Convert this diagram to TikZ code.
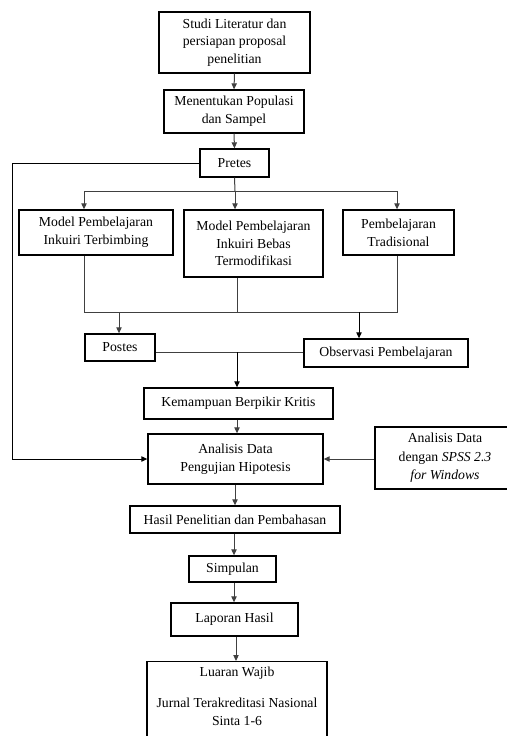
\documentclass[tikz,border=0pt]{standalone}
\usepackage{fontspec}
\setmainfont{Liberation Serif}
\usetikzlibrary{arrows.meta}
\begin{document}
\begin{tikzpicture}[x=0.75pt,y=-0.75pt,
  box/.style={draw=black, line width=1pt, inner sep=0pt, align=center,
    font=\fontsize{10.3pt}{13.3pt}\selectfont, fill=white},
  conn/.style={draw=black!75, line width=0.75pt},
  arr/.style={conn, -{Triangle[length=4.5pt,width=4pt]}}]
\useasboundingbox (0,0) rectangle (507,736);
\begin{scope}
\clip (0,0) rectangle (507,736);
\node[box, minimum width=151*0.75pt, minimum height=61*0.75pt] (b1) at (234.5,42.5) {Studi Literatur dan\\persiapan proposal\\penelitian};
\node[box, minimum width=140*0.75pt, minimum height=43*0.75pt] (b2) at (234,111.5) {Menentukan Populasi\\dan Sampel};
\node[box, minimum width=69*0.75pt, minimum height=28*0.75pt] (pre) at (234.5,163) {Pretes};
\node[box, minimum width=154*0.75pt, minimum height=45*0.75pt] (m1) at (96,232.5) {Model Pembelajaran\\Inkuiri Terbimbing};
\node[box, minimum width=139*0.75pt, minimum height=67*0.75pt] (m2) at (253.5,243.5) {Model Pembelajaran\\Inkuiri Bebas\\Termodifikasi};
\node[box, minimum width=111*0.75pt, minimum height=45*0.75pt] (m3) at (398.5,232.5) {Pembelajaran\\Tradisional};
\node[box, minimum width=70*0.75pt, minimum height=27*0.75pt] (post) at (120,347.5) {Postes};
\node[box, minimum width=164*0.75pt, minimum height=28*0.75pt] (obs) at (386,353) {Observasi Pembelajaran};
\node[box, minimum width=189*0.75pt, minimum height=31*0.75pt] (kem) at (238.5,403.5) {Kemampuan Berpikir Kritis};
\node[box, minimum width=175*0.75pt, minimum height=50*0.75pt] (ana) at (235.5,459) {Analisis Data\\Pengujian Hipotesis};
\node[box, minimum width=140*0.75pt, minimum height=62*0.75pt,
  font=\fontsize{10.3pt}{13.8pt}\selectfont] (spss) at (445,458) {Analisis Data\\dengan \textit{SPSS 2.3}\\\textit{for Windows}};
\node[box, minimum width=210*0.75pt, minimum height=27*0.75pt] (has) at (235,519.5) {Hasil Penelitian dan Pembahasan};
\node[box, minimum width=87*0.75pt, minimum height=26*0.75pt] (sim) at (232.5,569) {Simpulan};
\node[box, minimum width=127*0.75pt, minimum height=33*0.75pt] (lap) at (234.5,619.5) {Laporan Hasil};
\node[box, minimum width=180*0.75pt, minimum height=100*0.75pt, anchor=north] (lua) at (237,661) {};
\node[align=center, inner sep=0pt, anchor=north, font=\fontsize{10.3pt}{13.8pt}\selectfont] (luatext) at (237,667)
  {Luaran Wajib\\[9pt]Jurnal Terakreditasi Nasional\\Sinta 1-6};

% connectors
\draw[arr] (b1.south) -- (b2.north);
\draw[arr] (b2.south) -- (pre.north);
\coordinate (d0) at (235,191);
\coordinate (dl) at (84,191);
\coordinate (dr) at (397,191);
\draw[conn] (pre.south) -- (d0);
\draw[conn] (dl) -- (dr);
\draw[arr] (dl) -- (dl |- m1.north);
\draw[arr] (d0) -- (d0 |- m2.north);
\draw[arr] (dr) -- (dr |- m3.north);
\coordinate (jl) at (84,312);
\coordinate (jm) at (237,312);
\coordinate (jr) at (397,312);
\draw[conn] (dl |- m1.south) -- (jl) -- (jr) -- (dr |- m3.south);
\draw[conn] (jm |- m2.south) -- (jm);
\coordinate (ap) at (119,312);
\coordinate (ao) at (359,312);
\draw[arr] (ap) -- (ap |- post.north);
\draw[arr,draw=black] (ao) -- (ao |- obs.north);
\coordinate (pj) at (237,352);
\draw[conn] (post.east |- pj) -- (obs.west |- pj);
\draw[arr,draw=black] (pj) -- (pj |- kem.north);
\coordinate (ka) at (237,419);
\draw[arr] (kem.south -| ka) -- (ana.north -| ka);
\coordinate (lc1) at (12,163);
\coordinate (lc2) at (12,459);
\draw[arr,draw=black] (pre.west) -- (lc1) -- (lc2) -- (ana.west);
\draw[arr] (spss.west |- ana.east) -- (ana.east);
\draw[arr] (ana.south -| has.north) -- (has.north);
\coordinate (ts) at (234,533);
\draw[arr] (has.south -| ts) -- (sim.north -| ts);
\draw[arr] (sim.south -| ts) -- (lap.north -| ts);
\coordinate (tl) at (236,636);
\draw[arr] (lap.south -| tl) -- (lua.north -| tl);
\end{scope}
\end{tikzpicture}
\end{document}
